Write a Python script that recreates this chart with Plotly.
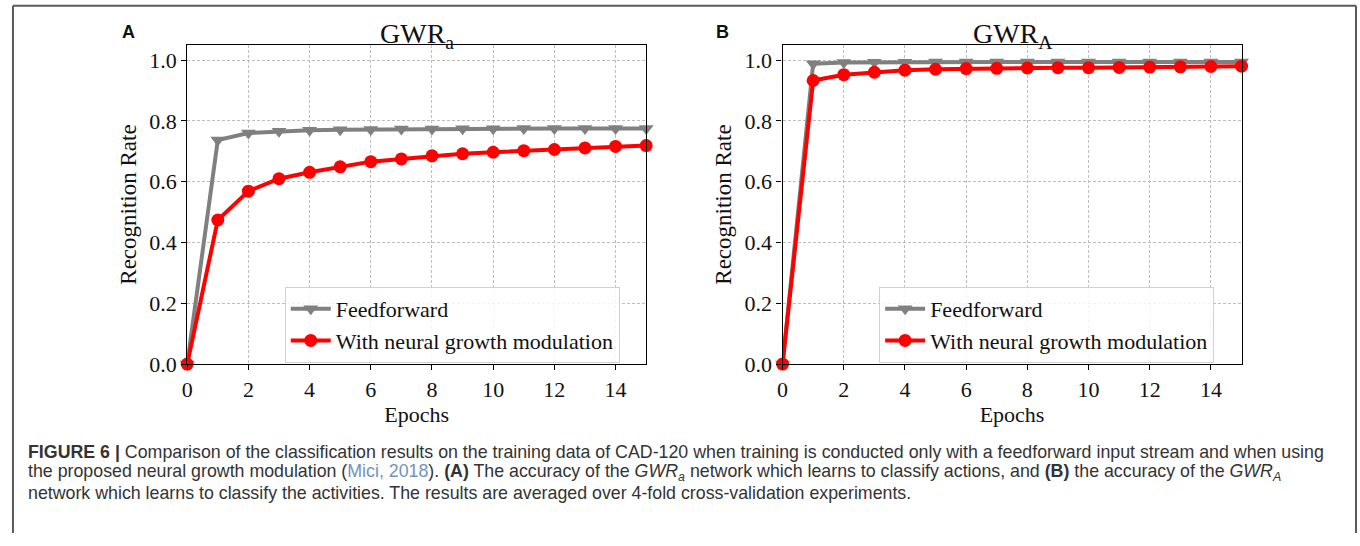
import plotly.graph_objects as go

epochs = list(range(0, 16))

# Panel A (GWR_a)
a_feedforward = [0.0, 0.737, 0.760, 0.766, 0.769, 0.771, 0.772, 0.773, 0.773, 0.774,
                 0.774, 0.775, 0.775, 0.775, 0.775, 0.775]
a_modulation = [0.0, 0.474, 0.569, 0.610, 0.631, 0.649, 0.666, 0.675, 0.685, 0.692,
                0.697, 0.702, 0.706, 0.711, 0.716, 0.719]

# Panel B (GWR_A)
b_feedforward = [0.0, 0.988, 0.992, 0.993, 0.993, 0.994, 0.994, 0.994, 0.994, 0.994,
                 0.994, 0.994, 0.994, 0.994, 0.994, 0.994]
b_modulation = [0.0, 0.933, 0.952, 0.960, 0.967, 0.970, 0.972, 0.973, 0.974, 0.975,
                0.975, 0.976, 0.977, 0.978, 0.979, 0.980]

series_names = ["Feedforward", "With neural growth modulation"]
panel_titles = ["GWR<sub>a</sub>", "GWR<sub>A</sub>"]
panel_letters = ["A", "B"]
x_ticks = [0, 2, 4, 6, 8, 10, 12, 14]
y_ticks = [0.0, 0.2, 0.4, 0.6, 0.8, 1.0]

caption_lines = [
    "<b>FIGURE 6 |</b> Comparison of the classification results on the training data of CAD-120 when training is conducted only with a feedforward input stream and when using",
    "the proposed neural growth modulation (<span style='color:#7393bd'>Mici, 2018</span>). <b>(A)</b> The accuracy of the <i>GWR<sub>a</sub></i> network which learns to classify actions, and <b>(B)</b> the accuracy of the <i>GWR<sub>A</sub></i>",
    "network which learns to classify the activities. The results are averaged over 4-fold cross-validation experiments.",
]

W, H = 1360, 546
GRAY = "#808080"
RED = "#ff0000"
SERIF = "Liberation Serif, Times New Roman, serif"

fig = go.Figure()

panels = [
    (a_feedforward, a_modulation, "x", "y", "legend"),
    (b_feedforward, b_modulation, "x2", "y2", "legend2"),
]
for ff, mod, xa, ya, lg in panels:
    fig.add_trace(go.Scatter(
        x=epochs, y=ff, name=series_names[0], xaxis=xa, yaxis=ya, legend=lg,
        mode="lines+markers", cliponaxis=False,
        line=dict(color=GRAY, width=4),
        marker=dict(symbol="triangle-down", size=13, color=GRAY),
    ))
    fig.add_trace(go.Scatter(
        x=epochs, y=mod, name=series_names[1], xaxis=xa, yaxis=ya, legend=lg,
        mode="lines+markers", cliponaxis=False,
        line=dict(color=RED, width=4),
        marker=dict(symbol="circle", size=13, color=RED),
    ))

# pixel layout helpers
def px_x(p):
    return p / W

def px_y(p):
    return 1 - p / H

doms_x = [(182, 643), (780, 1241)]
dom_y = (px_y(373), px_y(46))

axis_common = dict(
    showline=True, mirror=True, linecolor="black", linewidth=1.3,
    ticks="outside", ticklen=5, tickcolor="black", tickwidth=1.2,
    showgrid=True, gridcolor="#bdbdbd", griddash="3px,2px", gridwidth=1,
    zeroline=False,
    tickfont=dict(family=SERIF, size=22, color="#111"),
)

layout = dict(
    width=W, height=H,
    margin=dict(l=0, r=0, t=0, b=0),
    paper_bgcolor="white", plot_bgcolor="white",
    font=dict(family=SERIF, color="#111"),
)
for i, (x0, x1) in enumerate(doms_x):
    sx = "" if i == 0 else "2"
    layout["xaxis" + sx] = dict(
        axis_common, domain=[px_x(x0), px_x(x1)], range=[0, 15],
        tickvals=x_ticks, anchor="y" + sx,
        title=dict(text="Epochs", font=dict(family=SERIF, size=22, color="#111"), standoff=4),
    )
    layout["yaxis" + sx] = dict(
        axis_common, domain=list(dom_y), range=[0, 1.05],
        tickvals=y_ticks, tickformat=".1f", anchor="x" + sx,
        title=dict(text="Recognition Rate", font=dict(family=SERIF, size=23, color="#111"), standoff=6),
    )

legend_common = dict(
    bgcolor="rgba(255,255,255,0.85)", bordercolor="#d0d0d0", borderwidth=1,
    font=dict(family=SERIF, size=22, color="#111"),
    xanchor="left", yanchor="top", tracegroupgap=0, itemwidth=40,
)
layout["legend"] = dict(legend_common, x=px_x(280), y=px_y(294))
layout["legend2"] = dict(legend_common, x=px_x(877), y=px_y(294))
fig.update_layout(**layout)

# panel titles & letters
for i, (x0, x1) in enumerate(doms_x):
    fig.add_annotation(
        x=px_x((x0 + x1) / 2), y=px_y(36), xref="paper", yref="paper",
        text=panel_titles[i], showarrow=False, xanchor="center", yanchor="middle",
        font=dict(family=SERIF, size=28, color="#111"),
    )
letter_x = [123, 720]
for i, lx in enumerate(letter_x):
    fig.add_annotation(
        x=px_x(lx), y=px_y(33), xref="paper", yref="paper",
        text="<b>" + panel_letters[i] + "</b>", showarrow=False,
        xanchor="center", yanchor="middle",
        font=dict(family="Liberation Sans, Arial, sans-serif", size=18, color="#111"),
    )

# caption
cap_y = [463, 484, 505]
for line, cy in zip(caption_lines, cap_y):
    fig.add_annotation(
        x=px_x(20), y=px_y(cy), xref="paper", yref="paper",
        text=line, showarrow=False, xanchor="left", yanchor="middle", align="left",
        font=dict(family="Liberation Sans, Arial, sans-serif", size=17.8, color="#333"),
    )

# outer frame (open at bottom)
frame_color = "#5a5a5a"
fig.add_shape(type="line", xref="paper", yref="paper", x0=px_x(7), x1=px_x(1356),
              y0=px_y(6), y1=px_y(6), line=dict(color=frame_color, width=2))
fig.add_shape(type="line", xref="paper", yref="paper", x0=px_x(7), x1=px_x(7),
              y0=px_y(6), y1=0, line=dict(color=frame_color, width=2))
fig.add_shape(type="line", xref="paper", yref="paper", x0=px_x(1356), x1=px_x(1356),
              y0=px_y(6), y1=0, line=dict(color=frame_color, width=2))

fig.write_html("out.html")
